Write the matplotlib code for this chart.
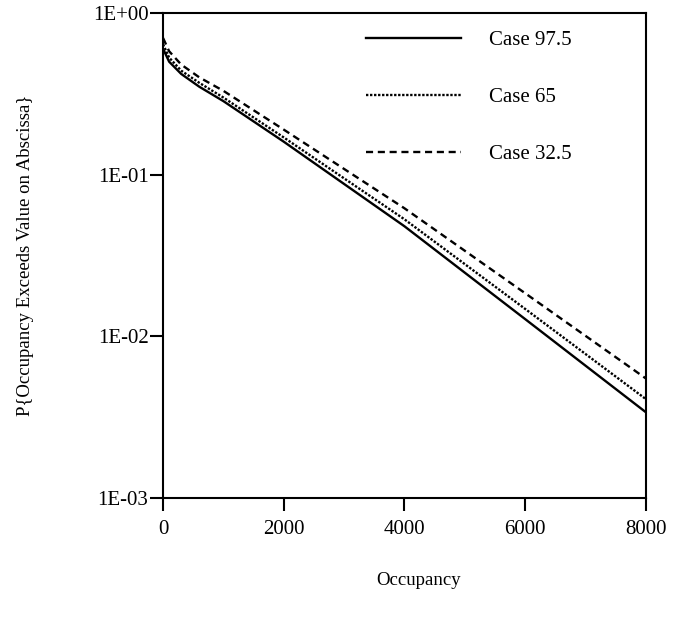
import matplotlib
matplotlib.use('Agg')
import matplotlib.pyplot as plt

plt.rcParams['font.family'] = ['Liberation Serif', 'DejaVu Serif']

# occupancy values and exceedance probabilities
occ = [0, 100, 300, 600, 1000, 2000, 4000, 6000, 8000]
case_975 = [0.60, 0.50, 0.42, 0.35, 0.285, 0.16, 0.048, 0.0128, 0.0034]
case_65 = [0.64, 0.53, 0.44, 0.37, 0.30, 0.17, 0.053, 0.0148, 0.0041]
case_325 = [0.70, 0.58, 0.48, 0.40, 0.33, 0.19, 0.062, 0.0185, 0.0055]

yticks = [1e-3, 1e-2, 1e-1, 1]
ytick_labels = ['1E-03', '1E-02', '1E-01', '1E+00']
xticks = [0, 2000, 4000, 6000, 8000]

fig = plt.figure(figsize=(6.74, 6.23), dpi=100)
ax = fig.add_axes([0.242, 0.2006, 0.716, 0.7785])

ax.semilogy(occ, case_975, color='black', lw=1.7, label='Case 97.5')
ax.semilogy(occ, case_65, color='black', lw=1.7, linestyle=(0, (1, 0.7)), label='Case 65')
ax.semilogy(occ, case_325, color='black', lw=1.7, linestyle=(0, (3, 2)), label='Case 32.5')

ax.set_xlim(0, 8000)
ax.set_ylim(1e-3, 1)
ax.set_xticks(xticks)
ax.set_yticks(yticks)
ax.set_yticklabels(ytick_labels)
ax.minorticks_off()
ax.tick_params(direction='out', length=9.5, width=1.5, labelsize=15)
ax.tick_params(axis='x', pad=6)
ax.tick_params(axis='y', pad=1)

for s in ax.spines.values():
    s.set_linewidth(1.5)

ax.set_xlabel('Occupancy', fontsize=13.5)
ax.xaxis.set_label_coords(0.53, -0.153)
ax.set_ylabel('P{Occupancy Exceeds Value on Abscissa}', fontsize=13.5)
ax.yaxis.set_label_coords(-0.267, 0.5)

ax.legend(loc='upper right', frameon=False, fontsize=15, handlelength=4.55,
          handletextpad=1.35, labelspacing=1.8, bbox_to_anchor=(0.886, 1.003))

fig.savefig('out.png', dpi=100)
